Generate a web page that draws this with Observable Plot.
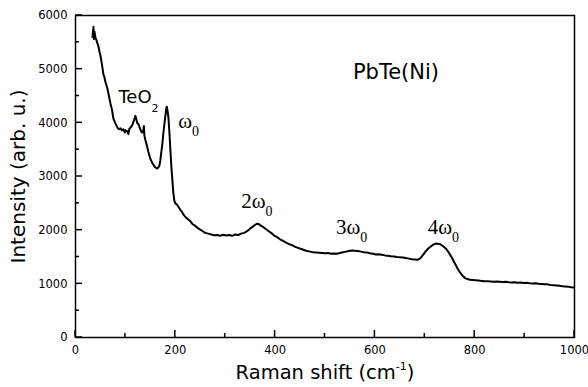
<!DOCTYPE html>
<html><head><meta charset="utf-8">
<script src="https://cdn.jsdelivr.net/npm/d3@7"></script>
<script src="https://cdn.jsdelivr.net/npm/@observablehq/plot@0.6"></script>
<style>html,body{margin:0;padding:0;background:#fff}</style>
</head><body><div id="chart"></div>
<script>
const shift = [34,36,37,38,40,42,44,46,48,50,53,56,58,60,64,67,70,73,76,80,84,87,90,93,96,99,100,103,106,108,111,114,117,120,122,124,126,129,132,134,136,137,138,140,143,146,150,154,158,161,164,166,168,170,172,174,176,178,180,182,183,184,186,188,190,192,194,196,198,200,203,206,210,214,218,222,226,230,235,240,245,250,255,260,266,272,278,284,290,296,302,308,314,320,326,332,338,344,350,356,360,364,368,372,376,380,386,392,398,404,410,416,422,428,434,440,446,452,458,464,470,476,482,488,494,500,506,512,518,524,530,536,542,548,554,560,566,572,578,584,590,596,602,608,614,620,626,632,638,644,650,656,662,668,674,680,686,690,694,698,702,706,710,714,718,722,726,730,734,738,742,746,750,754,758,762,766,770,774,778,782,786,790,796,802,808,814,820,826,832,838,844,850,856,862,868,874,880,886,892,898,904,910,916,922,928,934,940,946,952,958,964,970,976,982,988,994,998];
const intensity = [5600,5790,5560,5700,5590,5540,5480,5420,5330,5250,5090,4900,4850,4760,4640,4500,4360,4250,4080,3990,3910,3880,3900,3860,3880,3820,3860,3850,3790,3890,3920,3960,4040,4130,4060,3990,3980,3900,3830,3820,3860,3940,3770,3680,3580,3460,3330,3250,3190,3160,3150,3170,3200,3300,3460,3600,3800,3960,4120,4280,4300,4250,4120,3850,3520,3200,2950,2700,2550,2500,2480,2440,2380,2330,2270,2230,2200,2170,2110,2080,2040,2010,1980,1950,1935,1920,1905,1910,1895,1915,1900,1910,1895,1920,1910,1935,1950,1980,2030,2070,2100,2120,2110,2080,2060,2030,1990,1950,1900,1870,1830,1800,1770,1740,1720,1690,1670,1650,1630,1610,1600,1590,1585,1580,1575,1570,1575,1560,1565,1560,1575,1590,1600,1610,1620,1615,1610,1600,1590,1585,1570,1560,1545,1550,1540,1530,1525,1515,1510,1500,1495,1490,1480,1470,1460,1455,1450,1470,1510,1560,1610,1650,1680,1710,1735,1750,1745,1740,1720,1690,1660,1610,1550,1490,1420,1350,1280,1220,1170,1130,1100,1090,1075,1070,1065,1060,1055,1050,1050,1045,1040,1045,1040,1035,1040,1030,1025,1030,1020,1025,1015,1020,1010,1005,1010,1000,995,990,990,980,975,970,965,955,950,945,935,930];

const xMajorTicks = [0, 200, 400, 600, 800, 1000];
const xMinorTicks = [100, 300, 500, 700, 900];
const yMajorTicks = [0, 1000, 2000, 3000, 4000, 5000, 6000];
const yMinorTicks = [500, 1500, 2500, 3500, 4500, 5500];

const xTitle = "Raman shift (cm";
const xTitleSup = "-1";
const yTitle = "Intensity (arb. u.)";
const sampleName = "PbTe(Ni)";
const sampleX = [556];
const sampleY = [4940];

const peakText = ["ω", "2ω", "3ω", "4ω"];
const peakSub = ["0", "0", "0", "0"];
const peakX = [206, 332, 522, 706];
const peakY = [4030, 2540, 2060, 2060];

const oxideText = ["TeO"];
const oxideSub = ["2"];
const oxideX = [86];
const oxideY = [4480];

const data = shift.map((x, i) => ({x, y: intensity[i]}));
const peaks = peakText.map((t, i) => ({t, s: peakSub[i], x: peakX[i], y: peakY[i]}));
const oxide = oxideText.map((t, i) => ({t, s: oxideSub[i], x: oxideX[i], y: oxideY[i]}));
const sample = [{t: sampleName, x: sampleX[0], y: sampleY[0]}];

const W = 588, H = 387, mL = 75, mR = 14, mT = 15, mB = 50;

const chart = Plot.plot({
  width: W,
  height: H,
  marginLeft: mL,
  marginRight: mR,
  marginTop: mT,
  marginBottom: mB,
  x: {domain: [0, 1000]},
  y: {domain: [0, 6000]},
  style: {fontFamily: "DejaVu Sans", fontSize: "11.5px", color: "black", background: "white"},
  marks: [
    Plot.frame({stroke: "black", strokeWidth: 1.5, fill: "none"}),
    Plot.axisX({ticks: xMajorTicks, tickSize: 0, tickPadding: 8, tickFormat: d3.format("d"), label: null}),
    Plot.axisY({ticks: yMajorTicks, tickSize: 0, tickPadding: 8, tickFormat: d3.format("d"), label: null}),
    Plot.line(data, {x: "x", y: "y", stroke: "black", strokeWidth: 2, strokeLinejoin: "round"}),
    Plot.text(sample, {x: "x", y: "y", text: "t", textAnchor: "start", fontSize: 21}),
    Plot.text(oxide, {x: "x", y: "y", text: "t", textAnchor: "start", fontSize: 18, className: "oxide"}),
    Plot.text(peaks, {x: "x", y: "y", text: "t", textAnchor: "start", fontSize: 21, fontFamily: "Liberation Serif", className: "peaks"}),
    Plot.text([xTitle], {frameAnchor: "bottom", text: d => d, textAnchor: "middle", lineAnchor: "bottom", dy: 41, fontSize: 19.5, className: "xtitle"}),
    Plot.text([yTitle], {frameAnchor: "left", text: d => d, textAnchor: "middle", lineAnchor: "middle", dx: -57, rotate: -90, fontSize: 20})
  ]
});

const svg = d3.select(chart);
// inward ticks, positioned through Plot's own scales
const sx = chart.scale("x"), sy = chart.scale("y");
const x0 = sx.apply(0), y0 = sy.apply(0);
const tickG = svg.append("g").attr("stroke", "black").attr("stroke-width", 1.5);
function addX(ticks, len) {
  ticks.forEach(t => tickG.append("line").attr("x1", sx.apply(t)).attr("x2", sx.apply(t)).attr("y1", y0).attr("y2", y0 - len));
}
function addY(ticks, len) {
  ticks.forEach(t => tickG.append("line").attr("y1", sy.apply(t)).attr("y2", sy.apply(t)).attr("x1", x0).attr("x2", x0 + len));
}
addX(xMajorTicks, 7); addX(xMinorTicks, 4);
addY(yMajorTicks, 7); addY(yMinorTicks, 4);

svg.selectAll(".peaks text").each(function(i) {
  d3.select(this).append("tspan").attr("dy", 8).attr("font-size", 14).text(peaks[i].s);
});
svg.selectAll(".oxide text").each(function(i) {
  d3.select(this).append("tspan").attr("dy", 9).attr("font-size", 11).text(oxide[i].s);
});
svg.selectAll(".xtitle text").each(function() {
  const t = d3.select(this);
  t.append("tspan").attr("dy", -9).attr("font-size", 11).text(xTitleSup);
  t.append("tspan").attr("dy", 9).text(")");
});
document.getElementById("chart").appendChild(chart);
</script>
</body></html>
